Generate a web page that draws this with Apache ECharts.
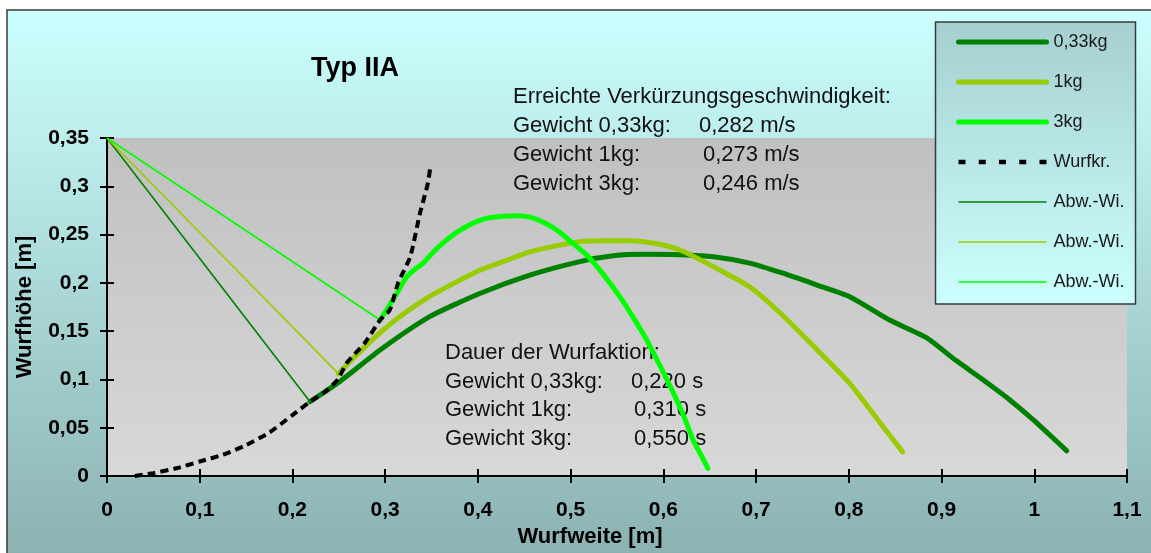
<!DOCTYPE html>
<html>
<head>
<meta charset="utf-8">
<script src="https://cdn.jsdelivr.net/npm/echarts@6/dist/echarts.min.js"></script>
<style>
  html, body { margin: 0; padding: 0; background: #ffffff; }
  #chart { width: 1151px; height: 553px; }
</style>
</head>
<body>
<div id="chart"></div>
<script>
// Achsenbeschriftungen
const xTickLabels = ['0', '0,1', '0,2', '0,3', '0,4', '0,5', '0,6', '0,7', '0,8', '0,9', '1', '1,1'];
const yTickLabels = ['0', '0,05', '0,1', '0,15', '0,2', '0,25', '0,3', '0,35'];

// Flugbahn 0,33 kg
const weite033 = [0.219, 0.25, 0.2945, 0.348, 0.402, 0.456, 0.51, 0.546, 0.58, 0.618, 0.654, 0.693, 0.729, 0.765, 0.801, 0.844, 0.884, 0.915, 0.945, 0.972, 0.999, 1.035];
const hoehe033 = [0.077, 0.097, 0.1305, 0.165, 0.189, 0.208, 0.222, 0.228, 0.2295, 0.229, 0.227, 0.2205, 0.21, 0.198, 0.1857, 0.1615, 0.143, 0.12, 0.0994, 0.08, 0.058, 0.026];

// Flugbahn 1 kg
const weite1 = [0.2495, 0.27, 0.294, 0.32, 0.348, 0.375, 0.402, 0.43, 0.456, 0.483, 0.51, 0.537, 0.564, 0.59, 0.618, 0.654, 0.693, 0.728, 0.766, 0.801, 0.837, 0.858];
const hoehe1 = [0.106, 0.126, 0.148, 0.168, 0.186, 0.2, 0.213, 0.223, 0.232, 0.238, 0.2427, 0.2437, 0.2437, 0.241, 0.234, 0.2168, 0.196, 0.167, 0.1305, 0.096, 0.051, 0.025];

// Flugbahn 3 kg
const weite3 = [0.2945, 0.3035, 0.3125, 0.323, 0.332, 0.341, 0.353, 0.366, 0.38, 0.395, 0.41, 0.427, 0.442, 0.456, 0.47, 0.485, 0.5, 0.517, 0.535, 0.553, 0.567, 0.582, 0.597, 0.611, 0.622, 0.632, 0.641, 0.648];
const hoehe3 = [0.1615, 0.175, 0.189, 0.206, 0.214, 0.2205, 0.233, 0.2443, 0.254, 0.262, 0.267, 0.269, 0.2695, 0.268, 0.263, 0.2547, 0.243, 0.229, 0.209, 0.1857, 0.165, 0.1408, 0.113, 0.0856, 0.062, 0.0373, 0.021, 0.008];

// Wurfkreis
const weiteKreis = [0.03, 0.05, 0.075, 0.1, 0.125, 0.15, 0.175, 0.2, 0.219, 0.235, 0.249, 0.2585, 0.278, 0.2945, 0.305, 0.314, 0.327, 0.3375, 0.346, 0.349];
const hoeheKreis = [0.0, 0.003, 0.008, 0.015, 0.022, 0.032, 0.045, 0.063, 0.077, 0.087, 0.1, 0.117, 0.1377, 0.1615, 0.172, 0.2, 0.227, 0.272, 0.303, 0.322];

// Abwurfwinkel (Drehpunkt -> Abwurfpunkt)
const abwWeite033 = [0, 0.219];
const abwHoehe033 = [0.35, 0.077];
const abwWeite1 = [0, 0.2495];
const abwHoehe1 = [0.35, 0.106];
const abwWeite3 = [0, 0.2945];
const abwHoehe3 = [0.35, 0.1615];

// Textangaben
const geschwTitel = 'Erreichte Verkürzungsgeschwindigkeit:';
const geschwNamen = ['Gewicht 0,33kg:', 'Gewicht 1kg:', 'Gewicht 3kg:'];
const geschwWerte = ['0,282 m/s', '0,273 m/s', '0,246 m/s'];
const dauerTitel = 'Dauer der Wurfaktion:';
const dauerNamen = ['Gewicht 0,33kg:', 'Gewicht 1kg:', 'Gewicht 3kg:'];
const dauerWerte = ['0,220 s', '0,310 s', '0,550 s'];

const zip = (xs, ys) => xs.map((x, i) => [x, ys[i]]);

const C_DARK = '#008000';
const C_YELLOW = '#99CC00';
const C_BRIGHT = '#00FF00';

const FONT = "'Liberation Sans', Arial, sans-serif";

const chart = echarts.init(document.getElementById('chart'), null, { renderer: 'canvas' });

function thick(name, color, xs, ys) {
  return {
    name, type: 'line', data: zip(xs, ys), symbol: 'none', smooth: 0.2,
    lineStyle: { color, width: 5, cap: 'round', join: 'round' },
    itemStyle: { color },
    xAxisIndex: 0, yAxisIndex: 0, animation: false, z: 2
  };
}
function thin(name, color, xs, ys) {
  return {
    name, type: 'line', data: zip(xs, ys), symbol: 'none',
    lineStyle: { color, width: 1.6 },
    itemStyle: { color },
    xAxisIndex: 0, yAxisIndex: 0, animation: false, z: 2
  };
}

const textGraphics = [];
function addText(x, y, text) {
  textGraphics.push({
    type: 'text', x, y, z: 1,
    style: { text, fill: '#111', font: '22px ' + FONT, textVerticalAlign: 'middle', textAlign: 'left' }
  });
}
// Block: Verkürzungsgeschwindigkeit
const gBase = [97, 126, 155, 183.5];
addText(513, gBase[0], geschwTitel);
geschwNamen.forEach((n, i) => addText(513, gBase[i + 1], n));
const gValX = [699, 703, 703];
geschwWerte.forEach((v, i) => addText(gValX[i], gBase[i + 1], v));
// Block: Dauer
const dBase = [353, 381.5, 410, 438.5];
addText(445, dBase[0], dauerTitel);
dauerNamen.forEach((n, i) => addText(445, dBase[i + 1], n));
const dValX = [631, 634, 634];
dauerWerte.forEach((v, i) => addText(dValX[i], dBase[i + 1], v));

const axisCommon = {
  type: 'value',
  splitLine: { show: false },
  axisLine: { show: true, onZero: false, lineStyle: { color: '#000', width: 2 } }
};

const legendThick = color => ({ width: 5, color, cap: 'round' });
const legendThin = color => ({ width: 1.6, color });

const option = {
  backgroundColor: '#ffffff',
  animation: false,
  title: {
    text: 'Typ IIA',
    left: 311, top: 55,
    padding: 0,
    textStyle: { fontFamily: FONT, fontWeight: 'bold', fontSize: 27, color: '#000' }
  },
  grid: {
    left: 107, right: 24, top: 138, bottom: 77,
    show: true, borderWidth: 0,
    backgroundColor: new echarts.graphic.LinearGradient(0, 0, 0, 1, [
      { offset: 0, color: '#C0C0C0' },
      { offset: 1, color: '#D8D8D8' }
    ])
  },
  legend: {
    orient: 'vertical',
    left: 956, top: 33,
    padding: 0,
    itemWidth: 88, itemHeight: 14, itemGap: 22,
    selectedMode: false,
    itemStyle: { opacity: 0 },
    textStyle: { fontFamily: FONT, fontSize: 18, color: '#1a1a1a', padding: [0, 0, 0, 2] },
    formatter: n => n.replace(/#\d$/, ''),
    data: [
      { name: '0,33kg', lineStyle: legendThick(C_DARK) },
      { name: '1kg', lineStyle: legendThick(C_YELLOW) },
      { name: '3kg', lineStyle: legendThick(C_BRIGHT) },
      { name: 'Wurfkr.', lineStyle: { type: [7, 13.25], width: 4.5, color: '#000' } },
      { name: 'Abw.-Wi.#1', lineStyle: legendThin(C_DARK) },
      { name: 'Abw.-Wi.#2', lineStyle: legendThin(C_YELLOW) },
      { name: 'Abw.-Wi.#3', lineStyle: legendThin(C_BRIGHT) }
    ]
  },
  xAxis: [
    Object.assign({}, axisCommon, {
      min: 0, max: 1.1, interval: 0.1, position: 'bottom',
      axisTick: { show: true, inside: false, length: 7, lineStyle: { color: '#000', width: 2 } },
      axisLabel: {
        margin: 24, color: '#000', fontFamily: FONT, fontWeight: 'bold', fontSize: 21,
        formatter: (v, i) => xTickLabels[i]
      },
      name: 'Wurfweite [m]', nameLocation: 'middle', nameGap: 50,
      nameTextStyle: { fontFamily: FONT, fontWeight: 'bold', fontSize: 22, color: '#000', padding: [0, 54, 0, 0] }
    }),
    Object.assign({}, axisCommon, {
      min: 0, max: 1.1, interval: 0.1, position: 'bottom', offset: 0,
      axisLine: { show: false },
      axisTick: { show: true, inside: true, length: 7, lineStyle: { color: '#000', width: 2 } },
      axisLabel: { show: false }
    })
  ],
  yAxis: [
    Object.assign({}, axisCommon, {
      min: 0, max: 0.35, interval: 0.05, position: 'left',
      axisTick: { show: true, inside: false, length: 7, lineStyle: { color: '#000', width: 2 } },
      axisLabel: {
        margin: 18, color: '#000', fontFamily: FONT, fontWeight: 'bold', fontSize: 21,
        formatter: (v, i) => yTickLabels[i]
      },
      name: 'Wurfhöhe [m]', nameLocation: 'middle', nameGap: 71,
      nameTextStyle: { fontFamily: FONT, fontWeight: 'bold', fontSize: 22, color: '#000' }
    }),
    Object.assign({}, axisCommon, {
      min: 0, max: 0.35, interval: 0.05, position: 'left', offset: 0,
      axisLine: { show: false },
      axisTick: { show: true, inside: true, length: 7, lineStyle: { color: '#000', width: 2 } },
      axisLabel: { show: false }
    })
  ],
  graphic: {
    elements: [
      {
        type: 'rect', z: -10, silent: true,
        shape: { x: 7, y: 10, width: 1150, height: 550 },
        style: {
          fill: new echarts.graphic.LinearGradient(0, 0, 0, 1, [
            { offset: 0, color: '#CCFFFF' },
            { offset: 1, color: '#8BB1B1' }
          ]),
          stroke: '#3a3a3a', lineWidth: 1.5
        }
      },
      {
        type: 'rect', z: 3, silent: true,
        shape: { x: 935.5, y: 22, width: 200, height: 282 },
        style: {
          fill: new echarts.graphic.LinearGradient(0, 0, 0, 1, [
            { offset: 0, color: '#A6CFCF' },
            { offset: 1, color: '#CCFFFF' }
          ]),
          stroke: '#3a3a3a', lineWidth: 1.5
        }
      }
    ].concat(textGraphics)
  },
  series: [
    thick('0,33kg', C_DARK, weite033, hoehe033),
    thick('1kg', C_YELLOW, weite1, hoehe1),
    thick('3kg', C_BRIGHT, weite3, hoehe3),
    {
      name: 'Wurfkr.', type: 'line', data: zip(weiteKreis, hoeheKreis), symbol: 'none', smooth: 0.2,
      lineStyle: { color: '#000', width: 4, type: [8, 5] },
      itemStyle: { color: '#000' },
      xAxisIndex: 0, yAxisIndex: 0, animation: false, z: 3
    },
    thin('Abw.-Wi.#1', C_DARK, abwWeite033, abwHoehe033),
    thin('Abw.-Wi.#2', C_YELLOW, abwWeite1, abwHoehe1),
    thin('Abw.-Wi.#3', C_BRIGHT, abwWeite3, abwHoehe3)
  ]
};

chart.setOption(option);
</script>
</body>
</html>
